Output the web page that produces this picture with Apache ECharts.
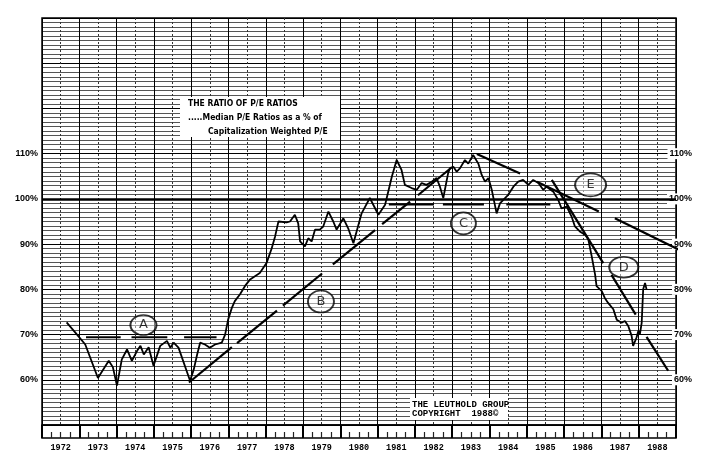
<!DOCTYPE html>
<html><head><meta charset="utf-8">
<script src="https://cdn.jsdelivr.net/npm/echarts@6.0.0/dist/echarts.min.js"></script>
<style>html,body{margin:0;padding:0;background:#fff}#c{width:704px;height:459px}</style>
</head><body><div id="c"></div>
<script>
// Dates as decimal years, ratio of median P/E to cap-weighted P/E (%)
const dateYears = [1972.66,1972.94,1973.16,1973.50,1973.79,1973.90,1974.01,1974.14,1974.28,1974.41,1974.55,1974.64,1974.73,1974.86,1974.99,1975.17,1975.35,1975.44,1975.53,1975.66,1975.97,1976.07,1976.16,1976.24,1976.37,1976.50,1976.64,1976.82,1976.91,1976.99,1977.09,1977.17,1977.31,1977.44,1977.58,1977.84,1978.02,1978.16,1978.25,1978.34,1978.56,1978.65,1978.78,1978.87,1978.92,1979.05,1979.14,1979.23,1979.32,1979.45,1979.54,1979.68,1979.81,1979.90,1980.08,1980.21,1980.35,1980.57,1980.79,1981.02,1981.20,1981.38,1981.51,1981.64,1981.73,1981.91,1982.05,1982.18,1982.31,1982.45,1982.58,1982.67,1982.76,1982.89,1982.94,1983.03,1983.12,1983.21,1983.34,1983.43,1983.56,1983.70,1983.79,1983.88,1983.97,1984.06,1984.19,1984.28,1984.37,1984.50,1984.64,1984.77,1984.90,1985.04,1985.17,1985.31,1985.44,1985.53,1985.71,1985.84,1985.93,1986.07,1986.20,1986.29,1986.42,1986.56,1986.65,1986.74,1986.83,1986.87,1987.01,1987.09,1987.18,1987.32,1987.41,1987.54,1987.63,1987.72,1987.81,1987.85,1987.94,1987.99,1988.03,1988.08,1988.12,1988.17,1988.21];
const ratioPct = [72.7,70.0,67.8,60.4,64.2,62.8,58.7,64.5,66.7,64.2,66.4,67.5,65.6,67.2,63.1,67.5,68.6,67.1,68.2,67.1,59.8,62.3,65.6,68.2,67.8,67.1,67.8,68.2,70.0,73.3,75.9,77.4,78.9,80.7,82.2,83.6,85.8,89.1,91.7,95.0,94.8,95.0,96.5,94.6,90.6,89.5,91.3,90.6,93.2,93.2,93.9,97.2,95.0,93.2,95.7,93.5,90.2,96.8,100.2,96.5,98.7,104.9,108.6,106.4,103.1,102.4,102.0,103.5,103.1,103.8,104.6,102.7,100.2,105.7,106.8,107.1,106.0,106.8,108.6,107.8,109.7,107.8,105.3,103.8,104.6,102.0,96.8,99.0,99.8,100.9,102.7,103.8,104.2,103.1,104.2,103.5,102.0,102.7,101.6,99.8,97.9,98.3,96.1,93.9,92.8,92.1,91.0,87.3,83.3,80.7,79.6,78.1,77.0,75.6,73.3,72.6,73.0,71.9,69.7,67.5,69.3,70.8,70.0,72.6,80.0,81.4,80.0];

const yearLabels = ['1972','1973','1974','1975','1976','1977','1978','1979','1980','1981','1982','1983','1984','1985','1986','1987','1988'];
const yTickLabels = [60,70,80,90,100,110];

// Hand-drawn annotation segments: [[startYear, startPct],[endYear, endPct]]
const segA = [[[1973.18,69.4],[1974.11,69.4]],[[1974.40,69.4],[1975.36,69.4]],[[1975.81,69.4],[1976.68,69.4]]];
const segC = [[[1981.30,98.8],[1982.51,98.8]],[[1982.75,98.8],[1983.85,98.8]],[[1984.45,98.8],[1985.63,98.8]]];
const segB = [[[1975.94,59.4],[1977.09,67.2]],[[1977.23,68.1],[1978.30,75.3]],[[1978.46,76.4],[1979.51,83.5]],[[1979.80,85.5],[1980.93,93.1]],[[1981.12,94.4],[1981.87,99.4]],[[1982.08,100.8],[1982.99,107.0]]];
const segPeak = [[[1983.66,109.9],[1984.82,105.6]]];
const segE = [[[1985.27,103.8],[1986.93,97.2]],[[1987.36,95.7],[1989.46,87.2]]];
const segD = [[[1985.67,104.2],[1987.05,85.8]],[[1987.27,83.2],[1987.92,74.4]],[[1988.21,69.5],[1988.79,62.0]]];

const circleNames = ['A','B','C','D','E'];
const circleYears = [1974.72,1979.48,1983.30,1987.60,1986.71];
const circlePcts = [72.1,77.3,94.6,84.9,103.1];

const circleSizes = {A:[26,20],B:[26,22],C:[25,22],D:[29,21],E:[31,23]};

const chart = echarts.init(document.getElementById('c'), null, {renderer:'canvas'});

const lineSeries = [];
[segA, segC, segB, segPeak, segE, segD].forEach(group => {
  group.forEach(seg => {
    lineSeries.push({
      type:'line', xAxisIndex:0, yAxisIndex:0, data:seg, symbol:'none', clip:false,
      lineStyle:{color:'#000', width:2.2}, silent:true, z:4, animation:false
    });
  });
});

const axisFont = {fontFamily:'Liberation Sans, Arial, sans-serif', fontWeight:'bold', fontSize:9, color:'#000'};
const boxFont = {fontFamily:'"Liberation Sans Narrow", "DejaVu Sans Condensed", sans-serif', fontWeight:'bold', fontSize:8.5, fill:'#000'};
const monoFont = {fontFamily:'"Liberation Mono", "DejaVu Sans Mono", monospace', fontWeight:'bold', fontSize:9, fill:'#000'};

const option = {
  animation:false,
  backgroundColor:'#fff',
  grid:[
    {left:42, top:18, width:634, height:407, show:true, borderColor:'#000', borderWidth:1.5},
    {left:42, top:425, width:634, height:13, show:true, borderColor:'#000', borderWidth:1.5}
  ],
  xAxis:[
    {type:'value', gridIndex:0, min:1972, max:1989, interval:1,
     axisLabel:{show:false}, axisLine:{show:false}, axisTick:{show:false},
     splitLine:{show:true, lineStyle:{color:'#000', width:1}},
     minorTick:{show:true, splitNumber:2, length:0, lineStyle:{color:'rgba(0,0,0,0)'}},
     minorSplitLine:{show:true, lineStyle:{color:'#333', width:1, type:[2,2]}}},
    {type:'value', gridIndex:1, min:1972, max:1989, interval:1, position:'bottom',
     axisLabel:{show:false}, axisLine:{show:false},
     axisTick:{show:true, inside:true, length:13, lineStyle:{color:'#000', width:2}},
     minorTick:{show:true, splitNumber:4, length:6, lineStyle:{color:'#222', width:1.2}},
     splitLine:{show:false}},
    {type:'category', gridIndex:1, data:yearLabels, position:'bottom', boundaryGap:true,
     axisLine:{show:false}, axisTick:{show:false}, splitLine:{show:false},
     axisLabel:{margin:5, fontFamily:'Liberation Mono, DejaVu Sans Mono, monospace', fontWeight:'bold', fontSize:8.5, color:'#000'}}
  ],
  yAxis:[
    {type:'value', gridIndex:0, min:50, max:140, interval:10, position:'left',
     axisLine:{show:false}, axisTick:{show:false},
     axisLabel:Object.assign({margin:4, formatter:v => yTickLabels.includes(v) ? v + '%' : ''}, axisFont),
     splitLine:{show:true, lineStyle:{color:'#000', width:1.2}},
     minorTick:{show:true, splitNumber:10, length:0, lineStyle:{color:'rgba(0,0,0,0)'}},
     minorSplitLine:{show:true, lineStyle:{color:'#2a2a2a', width:0.8}}},
    {type:'value', gridIndex:0, min:50, max:140, interval:10, position:'right',
     axisLine:{show:false}, axisTick:{show:false}, splitLine:{show:false},
     axisLabel:Object.assign({margin:17, align:'right', backgroundColor:'#fff', padding:[1,1,1,2],
       formatter:v => yTickLabels.includes(v) ? v + '%' : ''}, axisFont)},
    {type:'value', gridIndex:1, min:0, max:1, show:false}
  ],
  series:[
    {type:'line', xAxisIndex:0, yAxisIndex:0, name:'Median P/E as % of Cap-Weighted P/E',
     data:dateYears.map((d,i) => [d, ratioPct[i]]), symbol:'none',
     lineStyle:{color:'#000', width:1.8}, z:5,
     markLine:{silent:true, symbol:'none', label:{show:false}, animation:false,
       lineStyle:{color:'#000', width:2.6, type:'solid'}, data:[{yAxis:100}]}},
    ...lineSeries,
    {type:'scatter', xAxisIndex:0, yAxisIndex:0, z:6, silent:true,
     data:circleNames.map((n,i) => ({name:n, value:[circleYears[i], circlePcts[i]], symbolSize:circleSizes[n]})),
     symbol:'circle',
     itemStyle:{color:'rgba(255,255,255,0.6)', borderColor:'#000', borderWidth:1.8},
     label:{show:true, position:'inside', formatter:'{b}', fontSize:13, color:'#000',
       fontFamily:'DejaVu Sans, sans-serif'}}
  ],
  graphic:{elements:[
    {type:'rect', x:180, y:97, z:100, shape:{x:0, y:0, width:160, height:40}, style:{fill:'#fff'}},
    {type:'text', x:188, y:99, z:101, style:Object.assign({text:'THE RATIO OF P/E RATIOS'}, boxFont)},
    {type:'text', x:188, y:113, z:101, style:Object.assign({text:'.....Median P/E Ratios as a % of'}, boxFont)},
    {type:'text', x:208, y:127, z:101, style:Object.assign({text:'Capitalization Weighted P/E'}, boxFont)},
    {type:'rect', x:410, y:398, z:100, shape:{x:0, y:0, width:98, height:22}, style:{fill:'#fff'}},
    {type:'text', x:412, y:400, z:101, style:Object.assign({text:'THE LEUTHOLD GROUP'}, monoFont)},
    {type:'text', x:412, y:409, z:101, style:Object.assign({text:'COPYRIGHT  1988©'}, monoFont)}
  ]}
};
chart.setOption(option);
</script>
</body></html>
